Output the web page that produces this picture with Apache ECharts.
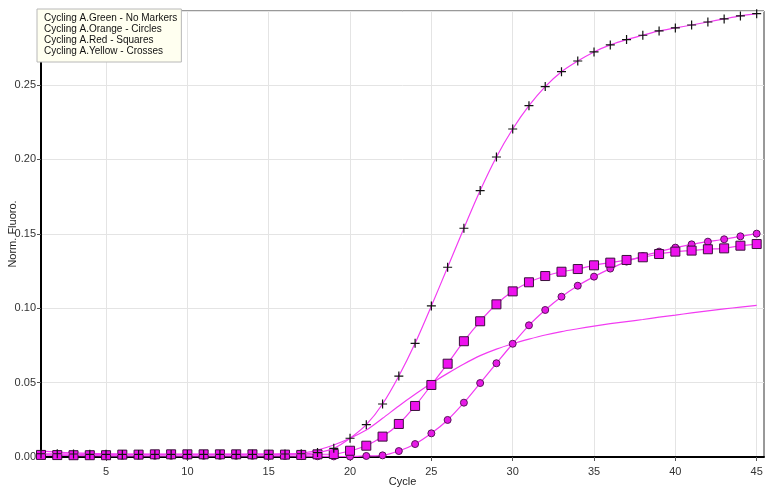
<!DOCTYPE html>
<html><head><meta charset="utf-8">
<script src="https://cdn.jsdelivr.net/npm/echarts@6/dist/echarts.min.js"></script>
<style>html,body{margin:0;padding:0;background:#fff}#c{width:773px;height:492px}</style>
</head><body><div id="c"></div>
<script>
const cycles = Array.from({length:45},(_,i)=>i+1);
const xTicks = [5,10,15,20,25,30,35,40,45];
const seriesNames = ["Cycling A.Green - No Markers","Cycling A.Orange - Circles","Cycling A.Red - Squares","Cycling A.Yellow - Crosses"];
const green = [0.0040,0.0033,0.0028,0.0025,0.0022,0.0020,0.0019,0.0018,0.0018,0.0018,0.0018,0.0018,0.0018,0.0019,0.0020,0.0021,0.0025,0.0047,0.0081,0.0126,
  0.0181,0.0260,0.0343,0.0421,0.0495,0.0562,0.0625,0.0681,0.0725,0.0761,0.0792,0.0820,0.0843,0.0862,0.0880,0.0896,0.0910,0.0924,0.0940,0.0954,
  0.0968,0.0982,0.0995,0.1007,0.1019];
const orange = [0.0015,0.0012,0.0010,0.0009,0.0008,0.0008,0.0008,0.0008,0.0008,0.0008,0.0008,0.0008,0.0008,0.0008,0.0007,0.0007,0.0006,0.0005,0.0004,0.0003,
  0.0007,0.0011,0.0040,0.0087,0.0159,0.0249,0.0365,0.0497,0.0630,0.0761,0.0885,0.0988,0.1077,0.1151,0.1212,0.1266,0.1313,0.1350,0.1380,0.1407,
  0.1429,0.1447,0.1463,0.1483,0.1501];
const red = [0.0014,0.0013,0.0012,0.0012,0.0012,0.0016,0.0016,0.0018,0.0018,0.0018,0.0018,0.0018,0.0018,0.0018,0.0016,0.0016,0.0014,0.0018,0.0020,0.0042,
  0.0076,0.0137,0.0222,0.0343,0.0484,0.0627,0.0778,0.0912,0.1026,0.1113,0.1174,0.1216,0.1245,0.1263,0.1288,0.1306,0.1324,0.1342,0.1364,0.1380,
  0.1387,0.1396,0.1402,0.1420,0.1431];
const yellow = [0.0022,0.0022,0.0020,0.0018,0.0018,0.0017,0.0017,0.0017,0.0017,0.0017,0.0017,0.0017,0.0017,0.0018,0.0018,0.0020,0.0022,0.0030,0.0058,0.0126,
  0.0217,0.0356,0.0544,0.0764,0.1015,0.1275,0.1537,0.1790,0.2016,0.2204,0.2361,0.2489,0.2589,0.2661,0.2722,0.2769,0.2805,0.2834,0.2863,0.2883,
  0.2903,0.2923,0.2944,0.2964,0.2979];

const pair = arr => cycles.map((c,i)=>[c,arr[i]]);
const lineColor = '#f23cf2';
const font = 'Arial, "Liberation Sans", sans-serif';
const chart = echarts.init(document.getElementById('c'), null, {renderer:'canvas'});
chart.setOption({
  animation:false,
  backgroundColor:'#fff',
  grid:{left:41,right:9,top:11,bottom:35,outerBoundsMode:'none',containLabel:false,show:true,borderColor:'#333',borderWidth:1,backgroundColor:'#fff'},
  legend:{
    orient:'vertical',left:37,top:9,itemGap:0,itemWidth:0,itemHeight:0,icon:'none',
    backgroundColor:'#fffff0',borderColor:'#b8b8b8',borderWidth:1,borderRadius:0,
    padding:[4,4,5,2],selectedMode:false,
    textStyle:{fontFamily:font,fontSize:10,color:'#111',lineHeight:11,padding:[0,0,0,0]},
    data:seriesNames
  },
  xAxis:{
    type:'value',min:1,max:45.45,
    name:'Cycle',nameLocation:'middle',nameGap:19,nameMoveOverlap:false,
    nameTextStyle:{fontFamily:font,fontSize:11,color:'#222'},
    axisLine:{show:true,onZero:false,lineStyle:{color:'#000',width:2}},
    axisTick:{show:true,length:4,customValues:xTicks,lineStyle:{color:'#555'}},
    axisLabel:{customValues:xTicks,fontFamily:font,fontSize:11,color:'#333',margin:9},
    splitLine:{show:true,lineStyle:{color:'#e4e4e4',width:1}}
  },
  yAxis:{
    type:'value',min:0,max:0.2997,interval:0.05,
    name:'Norm. Fluoro.',nameLocation:'middle',nameGap:23,nameRotate:90,nameMoveOverlap:false,
    nameTextStyle:{fontFamily:font,fontSize:11,color:'#222'},
    axisLine:{show:true,lineStyle:{color:'#000',width:2}},
    axisTick:{show:true,length:4,lineStyle:{color:'#555'}},
    axisLabel:{fontFamily:font,fontSize:11,color:'#333',margin:5,showMaxLabel:false,formatter:v=>v.toFixed(2)},
    splitLine:{show:true,lineStyle:{color:'#e4e4e4',width:1}}
  },
  series:[
    {name:seriesNames[0],type:'line',smooth:0.3,showSymbol:false,symbol:'none',data:pair(green),
      lineStyle:{color:lineColor,width:1.2},itemStyle:{color:lineColor},z:2},
    {name:seriesNames[1],type:'line',smooth:0.3,symbol:'circle',symbolSize:7,data:pair(orange),
      lineStyle:{color:lineColor,width:1.2},itemStyle:{color:'#e619e6',borderColor:'#5a145a',borderWidth:1},z:3},
    {name:seriesNames[2],type:'line',smooth:0.3,symbol:'rect',symbolSize:9,data:pair(red),
      lineStyle:{color:lineColor,width:1.2},itemStyle:{color:'#ee11ee',borderColor:'#3a103a',borderWidth:1},z:4},
    {name:seriesNames[3],type:'line',smooth:0.3,symbol:'path://M5,0 L5,10 M0,5 L10,5',symbolSize:9,data:pair(yellow),
      lineStyle:{color:lineColor,width:1.2},itemStyle:{color:'rgba(0,0,0,0)',borderColor:'#111',borderWidth:1.2},z:5}
  ]
});
</script></body></html>
